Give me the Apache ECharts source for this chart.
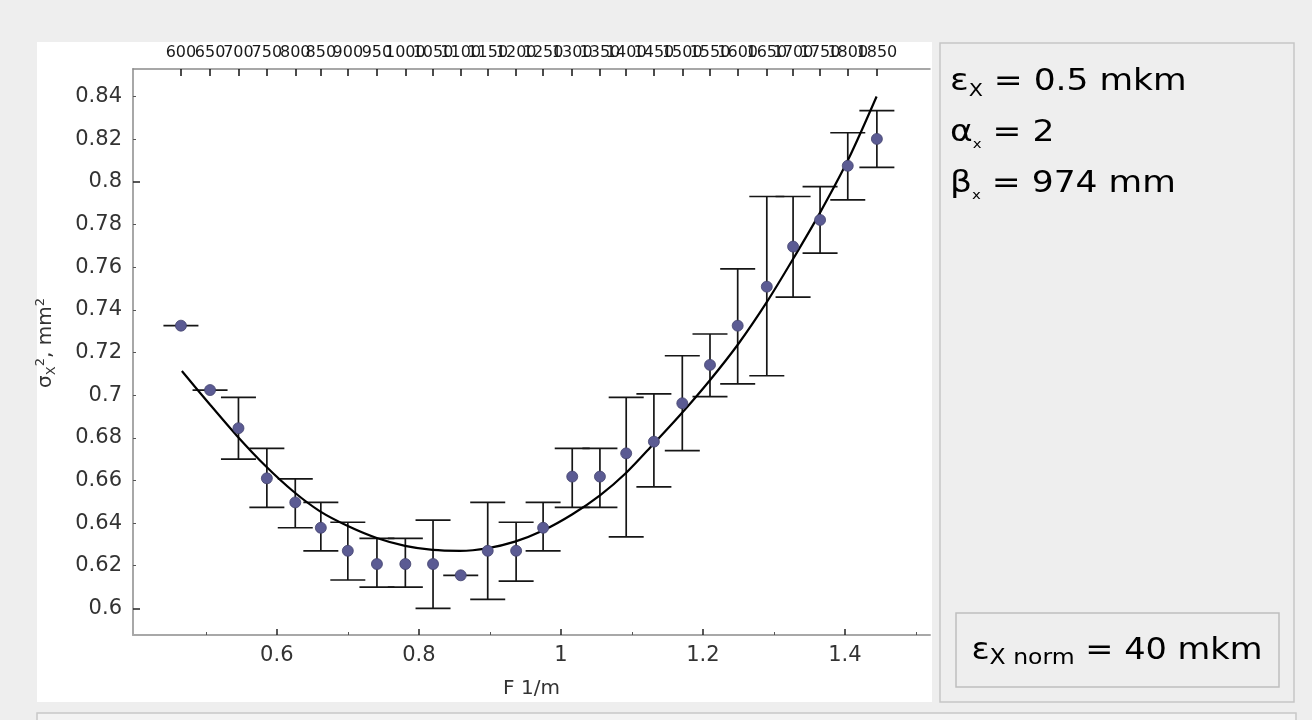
<!DOCTYPE html>
<html>
<head>
<meta charset="utf-8">
<script src="https://cdn.jsdelivr.net/npm/echarts@6/dist/echarts.min.js"></script>
<style>
  html, body { margin: 0; padding: 0; background: #eeeeee; }
  #chart { width: 1312px; height: 720px; }
</style>
</head>
<body>
<div id="chart"></div>
<script>
// ---- data ----
const focusF = [0.465, 0.506, 0.546, 0.586, 0.626, 0.662, 0.700, 0.741, 0.781, 0.820, 0.859, 0.897, 0.937,
                0.975, 1.016, 1.055, 1.092, 1.131, 1.171, 1.210, 1.249, 1.290, 1.327, 1.365, 1.404, 1.445];
const currentLabels = ['600','650','700','750','800','850','900','950','1000','1050','1100','1150','1200',
                       '1250','1300','1350','1400','1450','1500','1550','1600','1650','1700','1750','1800','1850'];
const sigma2 = [0.7326, 0.7024, 0.6845, 0.6610, 0.6497, 0.6378, 0.6270, 0.6208, 0.6208, 0.6208, 0.6155, 0.6270, 0.6270,
                0.6378, 0.6618, 0.6618, 0.6727, 0.6782, 0.6962, 0.7142, 0.7326, 0.7509, 0.7697, 0.7822, 0.8076, 0.8202];
const errHigh = [0.7326, 0.7024, 0.6990, 0.6750, 0.6607, 0.6497, 0.6404, 0.6328, 0.6328, 0.6414, 0.6155, 0.6497, 0.6404,
                 0.6497, 0.6750, 0.6750, 0.6990, 0.7006, 0.7185, 0.7287, 0.7592, 0.7932, 0.7932, 0.7978, 0.8231, 0.8335];
const errLow  = [0.7326, 0.7024, 0.6700, 0.6474, 0.6378, 0.6270, 0.6133, 0.6100, 0.6100, 0.6000, 0.6155, 0.6042, 0.6128,
                 0.6270, 0.6474, 0.6474, 0.6335, 0.6570, 0.6740, 0.6993, 0.7053, 0.7091, 0.7460, 0.7666, 0.7916, 0.8069];
const fitF = [0.4663, 0.5061, 0.5437, 0.5835, 0.6234, 0.6609, 0.7008, 0.7408, 0.7806, 0.8196, 0.8580, 0.8965, 0.9354,
              0.9749, 1.0157, 1.0551, 1.0917, 1.1301, 1.1701, 1.2099, 1.2498, 1.2897, 1.3272, 1.3648, 1.4046, 1.4446];
const fitSigma2 = [0.7113, 0.6955, 0.6810, 0.6670, 0.6548, 0.6455, 0.6385, 0.6330, 0.6293, 0.6274, 0.6270, 0.6282, 0.6313,
                   0.6365, 0.6440, 0.6530, 0.6635, 0.6770, 0.6915, 0.7070, 0.7240, 0.7435, 0.7640, 0.7855, 0.8105, 0.8401];
const xTickLabels = [0.6, 0.8, 1, 1.2, 1.4];
const xMinorTicks = [0.5, 0.7, 0.9, 1.1, 1.3, 1.5];
const yTickLabels = [0.6, 0.62, 0.64, 0.66, 0.68, 0.7, 0.72, 0.74, 0.76, 0.78, 0.8, 0.82, 0.84];
const yMajorTicks = [0.6, 0.8];
const yMinorTicks = [0.62, 0.64, 0.66, 0.68, 0.7, 0.72, 0.74, 0.76, 0.78, 0.82, 0.84];
const paramLines = ['0.5 mkm', '2', '974 mm'];
const normText = '40 mkm';

// ---- chart ----
const FONT = 'DejaVu Sans';
const X_MIN = 0.3975, X_MAX = 1.5198, Y_MIN = 0.5875, Y_MAX = 0.853;

// top-axis labels are split over two axes so every label is drawn (they overlap in the original)
const topEven = focusF.filter((f, i) => i % 2 === 0);
const topOdd = focusF.filter((f, i) => i % 2 === 1);
function currentOf(v) {
  const i = focusF.findIndex(f => Math.abs(f - v) < 1e-9);
  return i >= 0 ? currentLabels[i] : '';
}

function errorBar(params, api) {
  const x = api.value(0), lo = api.value(1), hi = api.value(2);
  const pHi = api.coord([x, hi]);
  const pLo = api.coord([x, lo]);
  const hw = 17.5;
  const st = { stroke: '#161616', lineWidth: 1.7 };
  const children = [
    { type: 'line', shape: { x1: pHi[0] - hw, y1: pHi[1], x2: pHi[0] + hw, y2: pHi[1] }, style: st }
  ];
  if (hi !== lo) {
    children.push({ type: 'line', shape: { x1: pHi[0], y1: pHi[1], x2: pLo[0], y2: pLo[1] }, style: st });
    children.push({ type: 'line', shape: { x1: pLo[0] - hw, y1: pLo[1], x2: pLo[0] + hw, y2: pLo[1] }, style: st });
  }
  return { type: 'group', children };
}

const mainRich = {
  m: { fontSize: 30, fontFamily: FONT, color: '#111', lineHeight: 36 },
  s: { fontSize: 18, fontFamily: FONT, color: '#111', verticalAlign: 'bottom', lineHeight: 22 },
  t: { fontSize: 13, fontFamily: FONT, color: '#111', verticalAlign: 'bottom', lineHeight: 18 },
  n: { fontSize: 21, fontFamily: FONT, color: '#111', verticalAlign: 'bottom', lineHeight: 24 }
};

const topLabelStyle = {
  fontSize: 16, fontFamily: FONT, color: '#1a1a1a', margin: 8,
  showMinLabel: true, showMaxLabel: true, hideOverlap: false,
  formatter: currentOf
};

const option = {
  backgroundColor: '#eeeeee',
  animation: false,
  grid: { left: 133, top: 69, right: 382, bottom: 85 },
  xAxis: [
    {
      type: 'value', position: 'bottom', min: X_MIN, max: X_MAX,
      axisLine: { lineStyle: { color: '#a8a8a8', width: 2 } },
      axisTick: { inside: true, length: 3, lineStyle: { color: '#555' }, customValues: xMinorTicks },
      axisLabel: { customValues: xTickLabels, fontSize: 21, fontFamily: FONT, color: '#333', margin: 10 },
      splitLine: { show: false },
      name: 'F 1/m', nameLocation: 'middle', nameGap: 44,
      nameTextStyle: { fontSize: 20, fontFamily: FONT, color: '#333' }
    },
    {
      type: 'value', position: 'bottom', min: X_MIN, max: X_MAX,
      axisLine: { show: false },
      axisTick: { inside: true, length: 6, lineStyle: { color: '#222', width: 1.5 }, customValues: xTickLabels },
      axisLabel: { show: false }, splitLine: { show: false }
    },
    {
      type: 'value', position: 'top', min: X_MIN, max: X_MAX,
      axisLine: { lineStyle: { color: '#8a8a8a', width: 1.5 } },
      axisTick: { inside: true, length: 7, lineStyle: { color: '#111', width: 1.5 }, customValues: focusF },
      axisLabel: Object.assign({ customValues: topEven }, topLabelStyle),
      splitLine: { show: false }
    },
    {
      type: 'value', position: 'top', min: X_MIN, max: X_MAX,
      axisLine: { show: false },
      axisTick: { show: false },
      axisLabel: Object.assign({ customValues: topOdd }, topLabelStyle),
      splitLine: { show: false }
    }
  ],
  yAxis: [
    {
      type: 'value', position: 'left', min: Y_MIN, max: Y_MAX,
      axisLine: { show: true, lineStyle: { color: '#a8a8a8', width: 2 } },
      axisTick: { show: true, inside: true, length: 3, lineStyle: { color: '#555' }, customValues: yMinorTicks },
      axisLabel: { customValues: yTickLabels, fontSize: 21, fontFamily: FONT, color: '#333', margin: 11 },
      splitLine: { show: false },
      name: '{b|σ}{sub|X}{sup|2}{b|, mm}{sup|2}', nameLocation: 'middle', nameGap: 75,
      nameTextStyle: {
        fontSize: 20, fontFamily: FONT, color: '#333', padding: [0, 0, 0, 18],
        rich: {
          b: { fontSize: 20, fontFamily: FONT, color: '#333', lineHeight: 24 },
          sub: { fontSize: 13, fontFamily: FONT, color: '#333', verticalAlign: 'bottom', lineHeight: 14 },
          sup: { fontSize: 13, fontFamily: FONT, color: '#333', verticalAlign: 'top', lineHeight: 14 }
        }
      }
    },
    {
      type: 'value', position: 'left', min: Y_MIN, max: Y_MAX,
      axisLine: { show: false },
      axisTick: { show: true, inside: true, length: 7, lineStyle: { color: '#222', width: 1.5 }, customValues: yMajorTicks },
      axisLabel: { show: false }, splitLine: { show: false }
    }
  ],
  series: [
    {
      type: 'custom', xAxisIndex: 0, yAxisIndex: 0, renderItem: errorBar, clip: false, z: 2,
      encode: { x: 0, y: [1, 2] },
      data: focusF.map((f, i) => [f, errLow[i], errHigh[i]])
    },
    {
      type: 'line', xAxisIndex: 0, yAxisIndex: 0, z: 3,
      data: fitF.map((f, i) => [f, fitSigma2[i]]),
      smooth: 0.3, symbol: 'none', showSymbol: false,
      lineStyle: { color: '#000', width: 2.2 }
    },
    {
      type: 'scatter', xAxisIndex: 0, yAxisIndex: 0, z: 4,
      data: focusF.map((f, i) => [f, sigma2[i]]),
      symbolSize: 11,
      itemStyle: { color: '#5b5b93', borderColor: '#43436d', borderWidth: 0.8, opacity: 1 }
    }
  ],
  graphic: [
    { type: 'rect', z: -10, shape: { x: 37, y: 42, width: 895, height: 660 }, style: { fill: '#ffffff' } },
    { type: 'rect', z: -10, shape: { x: 940, y: 43, width: 354, height: 659 }, style: { fill: '#eeeeee', stroke: '#c6c6c6', lineWidth: 1.5 } },
    { type: 'rect', z: -10, shape: { x: 956, y: 613, width: 323, height: 74 }, style: { fill: '#eeeeee', stroke: '#bfbfbf', lineWidth: 1.5 } },
    { type: 'rect', z: -10, shape: { x: 37, y: 713, width: 1259, height: 20 }, style: { fill: '#f3f3f3', stroke: '#c8c8c8', lineWidth: 1.5 } },
    { type: 'text', x: 950, y: 82, scaleX: 1.15, style: { text: '{m|ε}{s|X}{m| = ' + paramLines[0] + '}', rich: mainRich, verticalAlign: 'middle' } },
    { type: 'text', x: 950, y: 133, scaleX: 1.15, style: { text: '{m|α}{t|x}{m| = ' + paramLines[1] + '}', rich: mainRich, verticalAlign: 'middle' } },
    { type: 'text', x: 950, y: 184, scaleX: 1.15, style: { text: '{m|β}{t|x}{m| = ' + paramLines[2] + '}', rich: mainRich, verticalAlign: 'middle' } },
    { type: 'text', x: 1117, y: 651, scaleX: 1.12, style: { text: '{m|ε}{n|X norm}{m| = ' + normText + '}', rich: mainRich, align: 'center', verticalAlign: 'middle' } }
  ]
};

const chart = echarts.init(document.getElementById('chart'), null, { renderer: 'canvas' });
chart.setOption(option);
</script>
</body>
</html>
